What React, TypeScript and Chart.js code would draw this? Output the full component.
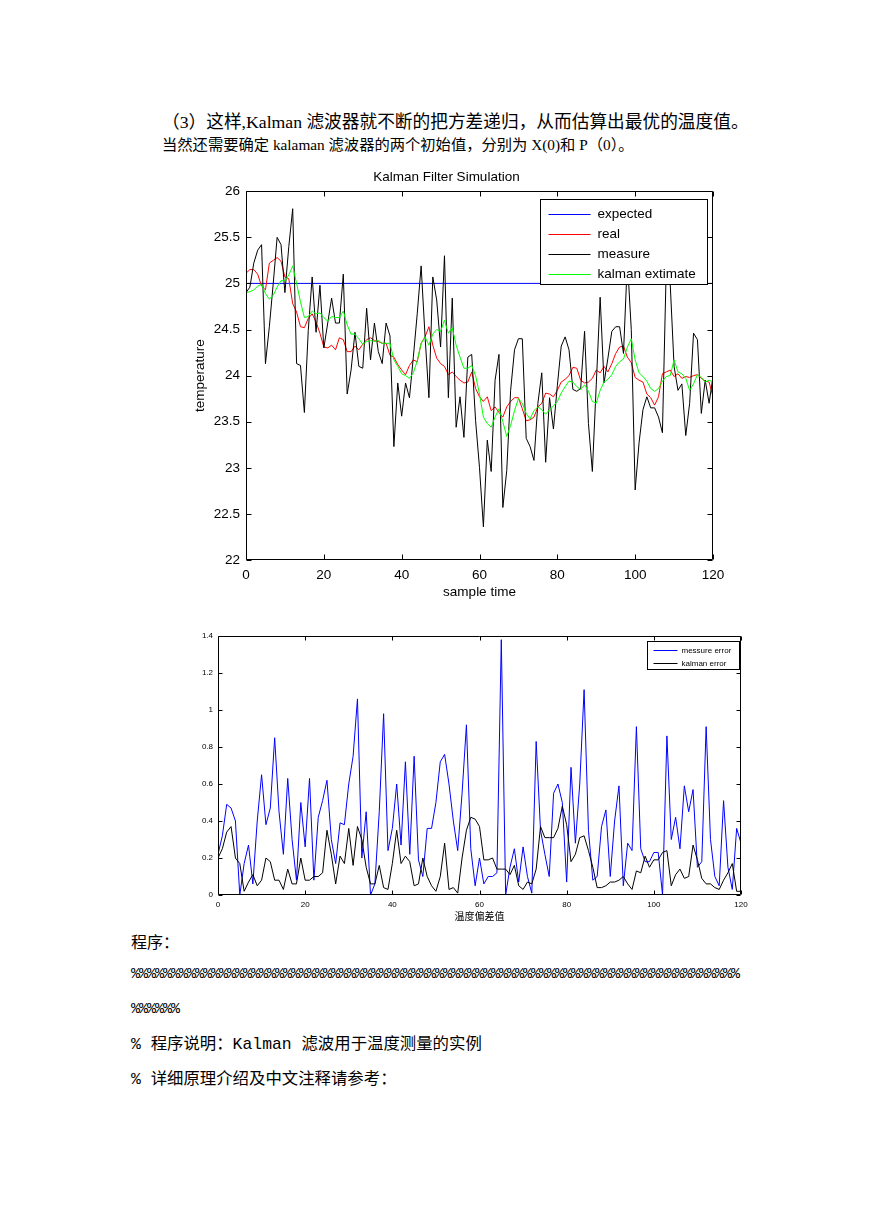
import React, { useEffect, useRef } from "react";
import { Chart, registerables } from "chart.js";
Chart.register(...registerables);

// ---------------- data ----------------
const sampleTime = Array.from({ length: 121 }, (_, i) => i);
const sampleTicks = [0, 20, 40, 60, 80, 100, 120];
const tempTicks = [22, 22.5, 23, 23.5, 24, 24.5, 25, 25.5, 26];
const errorTicks = [0, 0.2, 0.4, 0.6, 0.8, 1, 1.2, 1.4];

const expectedTime = [0, 120];
const expectedTemp = [25, 25];

const realTemp = [
  25.11, 25.15, 25.15, 25.1, 24.97, 24.93, 25.22, 25.25, 25.28, 25.24,
  25.07, 25.05, 24.78, 24.69, 24.53, 24.52, 24.62, 24.67, 24.58, 24.46,
  24.31, 24.3, 24.33, 24.28, 24.41, 24.39, 24.26, 24.26, 24.32, 24.28,
  24.34, 24.39, 24.41, 24.38, 24.37, 24.35, 24.35, 24.22, 24.2, 24.12,
  24.06, 24.01, 24.11, 24.17, 24.15, 24.35, 24.42, 24.53, 24.33, 24.19,
  24.13, 24.1, 24.01, 24.04, 23.99, 23.95, 23.92, 23.93, 24.04, 23.86,
  23.77, 23.72, 23.77, 23.62, 23.66, 23.6, 23.55, 23.66, 23.72, 23.76,
  23.76, 23.64, 23.51, 23.52, 23.55, 23.66, 23.7, 23.81, 23.8, 23.77,
  23.84, 23.93, 23.96, 24.0, 24.09, 24.08, 23.95, 23.92, 23.93, 23.97,
  24.06, 24.03, 24.1, 24.04, 24.13, 24.24, 24.31, 24.32, 24.2, 24.14,
  23.98, 23.95, 23.93, 23.8, 23.76, 23.68, 23.77, 24.02, 24.04, 24.06,
  23.99, 24.02, 23.97, 23.99, 23.98, 24.0, 24.01, 23.97, 23.94, 23.93,
  23.77,
];

const measureTemp = [
  24.9, 24.96, 25.22, 25.36, 25.42, 24.13, 24.53, 25.0, 25.5, 25.42,
  24.9, 25.4, 25.81, 24.13, 24.11, 23.6, 24.49, 25.07, 24.47, 24.98,
  24.3, 24.57, 24.84, 24.57, 24.57, 25.1, 23.8, 24.06, 24.47, 24.1,
  24.08, 24.73, 24.17, 24.57, 24.26, 24.13, 24.57, 24.43, 23.23, 23.92,
  23.56, 23.92, 23.76, 24.2, 24.67, 25.19, 24.43, 23.76, 25.07, 24.82,
  24.31, 25.3, 23.76, 24.84, 23.44, 23.77, 23.33, 24.2, 24.23, 23.51,
  23.0, 22.36, 23.3, 22.96, 23.95, 24.23, 22.57, 22.97, 23.84, 24.28,
  24.4, 24.4, 23.32, 23.23, 23.08, 23.7, 24.03, 23.06, 23.76, 23.42,
  23.89, 24.32, 24.42, 24.28, 23.85, 23.83, 23.86, 24.48, 23.48, 22.96,
  23.9, 24.85, 23.92, 24.19, 24.48, 24.53, 24.53, 24.24, 25.25, 24.5,
  22.76, 23.27, 23.63, 23.77, 23.65, 23.65, 23.55, 23.38, 25.2, 25.0,
  24.1, 23.84, 23.91, 23.35, 23.7, 24.46, 24.39, 23.59, 23.95, 23.7,
  23.99,
];

const kalmanTemp = [
  24.9, 24.91, 24.93, 24.97, 24.99, 24.89, 24.83, 24.87, 24.96, 25.03,
  25.03, 25.09, 25.19, 25.0, 24.8, 24.63, 24.64, 24.7, 24.67, 24.68,
  24.63, 24.59, 24.64, 24.63, 24.63, 24.7, 24.55, 24.45, 24.45, 24.4,
  24.34, 24.37, 24.38, 24.37, 24.38, 24.35, 24.35, 24.35, 24.17, 24.1,
  24.02, 24.0, 23.97, 24.03, 24.16, 24.35, 24.42, 24.33, 24.45, 24.5,
  24.48, 24.6, 24.46, 24.52, 24.33, 24.2, 24.08, 24.08, 24.11, 24.0,
  23.8, 23.55, 23.48, 23.44, 23.55, 23.64, 23.5, 23.34, 23.46, 23.62,
  23.75, 23.7, 23.59, 23.53, 23.62, 23.66, 23.63, 23.58, 23.63, 23.67,
  23.72, 23.81, 23.88, 23.94, 23.93, 23.88, 23.85, 23.9, 23.83, 23.72,
  23.7, 23.84, 23.93, 23.96, 24.01, 24.1, 24.15, 24.18, 24.31, 24.4,
  24.17, 24.03, 23.99, 23.94, 23.86, 23.83, 23.86, 23.94, 23.99, 24.0,
  24.17, 24.04, 24.02, 23.97, 23.84, 23.91, 24.01, 23.98, 23.93, 23.95,
  23.93,
];

const measureError = [
  0.22, 0.32, 0.49, 0.47, 0.4, 0.0, 0.17, 0.27, 0.06, 0.4,
  0.65, 0.38, 0.47, 0.85, 0.45, 0.22, 0.63, 0.3, 0.08, 0.5,
  0.26, 0.63, 0.08, 0.42, 0.51, 0.62, 0.3, 0.17, 0.39, 0.38,
  0.6, 0.75, 1.06, 0.2, 0.45, 0.0, 0.06, 0.45, 0.98, 0.24,
  0.36, 0.6, 0.27, 0.72, 0.22, 0.75, 0.19, 0.1, 0.36, 0.36,
  0.5, 0.72, 0.76, 0.6, 0.4, 0.24, 0.55, 0.92, 0.25, 0.05,
  0.2, 0.06, 0.1, 0.1, 0.12, 1.38, 0.0, 0.15, 0.25, 0.07,
  0.26, 0.1, 0.01, 0.83, 0.35, 0.22, 0.1, 0.55, 0.6, 0.5,
  0.07, 0.69, 0.28, 0.6, 1.11, 0.35, 0.08, 0.1, 0.37, 0.46,
  0.1, 0.4, 0.59, 0.05, 0.28, 0.24, 0.91, 0.25, 0.18, 0.18,
  0.23, 0.23, 0.0, 0.86, 0.3, 0.42, 0.25, 0.59, 0.45, 0.57,
  0.15, 0.18, 0.91, 0.3, 0.1, 0.05, 0.51, 0.15, 0.03, 0.36,
  0.28,
];

const kalmanError = [
  0.2, 0.25, 0.34, 0.37, 0.2, 0.17, 0.02, 0.07, 0.11, 0.05,
  0.08, 0.2, 0.18, 0.08, 0.08, 0.03, 0.14, 0.06, 0.06, 0.2,
  0.08, 0.08, 0.1, 0.1, 0.12, 0.35, 0.22, 0.06, 0.21, 0.17,
  0.36, 0.16, 0.37, 0.3, 0.15, 0.06, 0.06, 0.16, 0.04, 0.03,
  0.17, 0.35, 0.17, 0.21, 0.18, 0.05, 0.06, 0.2, 0.1, 0.05,
  0.02, 0.1, 0.28, 0.03, 0.04, 0.01, 0.2, 0.35, 0.42, 0.41,
  0.37, 0.19, 0.19, 0.2, 0.14, 0.14, 0.14, 0.11, 0.16, 0.05,
  0.03, 0.07, 0.06, 0.14, 0.37, 0.31, 0.31, 0.31, 0.36, 0.48,
  0.38, 0.18, 0.22, 0.31, 0.32, 0.24, 0.15, 0.04, 0.04, 0.05,
  0.07, 0.07, 0.08, 0.1, 0.06, 0.03, 0.13, 0.12, 0.21, 0.15,
  0.19, 0.19, 0.23, 0.24, 0.05, 0.11, 0.14, 0.09, 0.1, 0.27,
  0.19, 0.09, 0.06, 0.06, 0.04, 0.03, 0.08, 0.12, 0.17, 0.02,
  0.02,
];

// ---------------- helpers ----------------
const SANS = '"Liberation Sans", Arial, sans-serif';
const CJK = '"Noto Sans CJK SC", sans-serif';
const DOC = '"Liberation Serif", "Noto Sans CJK SC", serif';
const MONO = '"Liberation Mono", "Noto Sans CJK SC", monospace';

const toPoints = (xs: number[], ys: number[]) => xs.map((x, i) => ({ x, y: ys[i] }));

function boxPlugin(tickLen: number) {
  return {
    id: "matlabBox",
    afterDatasetsDraw(chart: any) {
      const { ctx, chartArea: a } = chart;
      const xs = chart.scales.x;
      const ys = chart.scales.y;
      const l = Math.round(a.left) + 0.5;
      const r = Math.round(a.right) - 0.5;
      const t = Math.round(a.top) + 0.5;
      const b = Math.round(a.bottom) - 0.5;
      ctx.save();
      ctx.strokeStyle = "#000";
      ctx.lineWidth = 1;
      ctx.beginPath();
      ctx.rect(l, t, r - l, b - t);
      xs.ticks.forEach((tk: any) => {
        const p = Math.round(xs.getPixelForValue(tk.value)) + 0.5;
        ctx.moveTo(p, b);
        ctx.lineTo(p, b - tickLen);
        ctx.moveTo(p, t);
        ctx.lineTo(p, t + tickLen);
      });
      ys.ticks.forEach((tk: any) => {
        const p = Math.round(ys.getPixelForValue(tk.value)) + 0.5;
        ctx.moveTo(l, p);
        ctx.lineTo(l + tickLen, p);
        ctx.moveTo(r, p);
        ctx.lineTo(r - tickLen, p);
      });
      ctx.stroke();
      ctx.restore();
    },
  };
}

type LegendGeom = {
  right: number;
  top: number;
  width: number;
  height: number;
  rows: number[];
  lineStart: number;
  lineEnd: number;
  textX: number;
  fontSize: number;
};

function legendPlugin(items: { label: string; color: string }[], g: LegendGeom) {
  return {
    id: "matlabLegend",
    afterDatasetsDraw(chart: any) {
      const { ctx, chartArea: a } = chart;
      const x0 = Math.round(a.right - g.right - g.width) + 0.5;
      const y0 = Math.round(a.top + g.top) + 0.5;
      ctx.save();
      ctx.fillStyle = "#fff";
      ctx.fillRect(x0, y0, g.width, g.height);
      ctx.strokeStyle = "#000";
      ctx.lineWidth = 1;
      ctx.strokeRect(x0, y0, g.width, g.height);
      ctx.font = `${g.fontSize}px ${SANS}`;
      ctx.textBaseline = "middle";
      ctx.textAlign = "left";
      items.forEach((it, k) => {
        const y = Math.round(y0 + g.rows[k]) + 0.5;
        ctx.strokeStyle = it.color;
        ctx.beginPath();
        ctx.moveTo(x0 + g.lineStart, y);
        ctx.lineTo(x0 + g.lineEnd, y);
        ctx.stroke();
        ctx.fillStyle = "#000";
        ctx.fillText(it.label, x0 + g.textX, y);
      });
      ctx.restore();
    },
  };
}

function useChart(config: () => any) {
  const ref = useRef<HTMLCanvasElement | null>(null);
  useEffect(() => {
    if (!ref.current) return;
    const chart = new Chart(ref.current, config());
    return () => chart.destroy();
  }, []);
  return ref;
}

const fmt = (v: number) => String(Number(Number(v).toFixed(2)));

// ---------------- chart 1 ----------------
function KalmanChart() {
  const ref = useChart(() => {
    const tickFont = { family: SANS, size: 13.5 };
    return {
      type: "line",
      data: {
        datasets: [
          { label: "expected", data: toPoints(expectedTime, expectedTemp), borderColor: "#0000ff", order: 3 },
          { label: "real", data: toPoints(sampleTime, realTemp), borderColor: "#ff0000", order: 2 },
          { label: "measure", data: toPoints(sampleTime, measureTemp), borderColor: "#000000", order: 1 },
          { label: "kalman extimate", data: toPoints(sampleTime, kalmanTemp), borderColor: "#00ff00", order: 0 },
        ],
      },
      options: {
        animation: false,
        responsive: false,
        devicePixelRatio: 1,
        elements: { point: { radius: 0 }, line: { borderWidth: 1, tension: 0 } },
        layout: { padding: { top: 0, right: 27, bottom: 0, left: 0 } },
        plugins: {
          legend: { display: false },
          tooltip: { enabled: false },
          title: {
            display: true,
            text: "Kalman Filter Simulation",
            color: "#000",
            font: { family: SANS, size: 13.5, weight: "normal" },
            padding: { top: 4, bottom: 6 },
          },
        },
        scales: {
          x: {
            type: "linear",
            min: 0,
            max: 120,
            afterBuildTicks: (s: any) => {
              s.ticks = sampleTicks.map((v) => ({ value: v }));
            },
            afterFit: (s: any) => {
              s.height = 50;
            },
            grid: { display: false, drawTicks: false },
            border: { display: false },
            ticks: { color: "#000", font: tickFont, padding: 7, maxRotation: 0, autoSkip: false, callback: fmt },
            title: {
              display: true,
              text: "sample time",
              color: "#000",
              font: { family: SANS, size: 13.5 },
              padding: { top: 0, bottom: 10 },
            },
          },
          y: {
            type: "linear",
            min: 22,
            max: 26,
            afterBuildTicks: (s: any) => {
              s.ticks = tempTicks.map((v) => ({ value: v }));
            },
            afterFit: (s: any) => {
              s.width = 66;
            },
            grid: { display: false, drawTicks: false },
            border: { display: false },
            ticks: { color: "#000", font: tickFont, padding: 6, autoSkip: false, callback: fmt },
            title: {
              display: true,
              text: "temperature",
              color: "#000",
              font: { family: SANS, size: 13.5 },
              padding: { top: 12, bottom: 0 },
            },
          },
        },
      },
      plugins: [
        boxPlugin(5),
        legendPlugin(
          [
            { label: "expected", color: "#0000ff" },
            { label: "real", color: "#ff0000" },
            { label: "measure", color: "#000000" },
            { label: "kalman extimate", color: "#00ff00" },
          ],
          { right: 6, top: 8, width: 167, height: 85, rows: [14, 34.5, 54, 74.5], lineStart: 8, lineEnd: 50, textX: 57, fontSize: 13.5 }
        ),
      ],
    };
  });
  return (
    <canvas
      ref={ref}
      width={560}
      height={445}
      style={{ position: "absolute", left: 180, top: 165, width: 560, height: 445 }}
    />
  );
}

// ---------------- chart 2 ----------------
function ErrorChart() {
  const ref = useChart(() => {
    const tickFont = { family: SANS, size: 8 };
    return {
      type: "line",
      data: {
        datasets: [
          { label: "messure error", data: toPoints(sampleTime, measureError), borderColor: "#0000ff", order: 1 },
          { label: "kalman error", data: toPoints(sampleTime, kalmanError), borderColor: "#000000", order: 0 },
        ],
      },
      options: {
        animation: false,
        responsive: false,
        devicePixelRatio: 1,
        elements: { point: { radius: 0 }, line: { borderWidth: 1, tension: 0 } },
        layout: { padding: { top: 11, right: 19, bottom: 0, left: 0 } },
        plugins: { legend: { display: false }, tooltip: { enabled: false }, title: { display: false } },
        scales: {
          x: {
            type: "linear",
            min: 0,
            max: 120,
            afterBuildTicks: (s: any) => {
              s.ticks = sampleTicks.map((v) => ({ value: v }));
            },
            afterFit: (s: any) => {
              s.height = 30;
            },
            grid: { display: false, drawTicks: false },
            border: { display: false },
            ticks: { color: "#000", font: tickFont, padding: 5, maxRotation: 0, autoSkip: false, callback: fmt },
            title: {
              display: true,
              text: "温度偏差值",
              color: "#000",
              font: { family: CJK, size: 10 },
              padding: { top: 0, bottom: 3 },
            },
          },
          y: {
            type: "linear",
            min: 0,
            max: 1.4,
            afterBuildTicks: (s: any) => {
              s.ticks = errorTicks.map((v) => ({ value: v }));
            },
            afterFit: (s: any) => {
              s.width = 28;
            },
            grid: { display: false, drawTicks: false },
            border: { display: false },
            ticks: { color: "#000", font: tickFont, padding: 5, autoSkip: false, callback: fmt },
          },
        },
      },
      plugins: [
        boxPlugin(4),
        legendPlugin(
          [
            { label: "messure error", color: "#0000ff" },
            { label: "kalman error", color: "#000000" },
          ],
          { right: 2, top: 5, width: 92, height: 28, rows: [8, 21], lineStart: 6, lineEnd: 30, textX: 34, fontSize: 8 }
        ),
      ],
    };
  });
  return (
    <canvas
      ref={ref}
      width={570}
      height={300}
      style={{ position: "absolute", left: 190, top: 625, width: 570, height: 300 }}
    />
  );
}

// ---------------- page ----------------
const textLine = (left: number, centerY: number, size: number, family: string, extra: any = {}) => ({
  position: "absolute" as const,
  left,
  top: centerY - 12,
  height: 24,
  lineHeight: "24px",
  fontSize: size,
  fontFamily: family,
  whiteSpace: "nowrap" as const,
  color: "#000",
  ...extra,
});

export default function App() {
  return (
    <div
      style={{
        position: "absolute",
        left: 0,
        top: 0,
        width: 869,
        height: 1228,
        background: "#fff",
        overflow: "hidden",
      }}
    >
      <div style={textLine(162, 122, 17.7, DOC)}>
        （3）这样,Kalman 滤波器就不断的把方差递归，从而估算出最优的温度值。
      </div>
      <div style={textLine(162, 145, 15.3, DOC)}>
        当然还需要确定 kalaman 滤波器的两个初始值，分别为 X(0)和 P（0）。
      </div>

      <KalmanChart />
      <ErrorChart />

      <div style={textLine(131, 943, 16, DOC)}>程序：</div>
      <div style={textLine(131, 975, 15, MONO, { letterSpacing: "-1px" })}>
        %%%%%%%%%%%%%%%%%%%%%%%%%%%%%%%%%%%%%%%%%%%%%%%%%%%%%%%%%%%%%%%%%%%%%%%%%%%%
      </div>
      <div style={textLine(131, 1010, 15, MONO, { letterSpacing: "-1px" })}>%%%%%%</div>
      <div style={textLine(131, 1045, 16.4, MONO)}>% 程序说明：Kalman 滤波用于温度测量的实例</div>
      <div style={textLine(131, 1080, 16.4, MONO)}>% 详细原理介绍及中文注释请参考：</div>
    </div>
  );
}
